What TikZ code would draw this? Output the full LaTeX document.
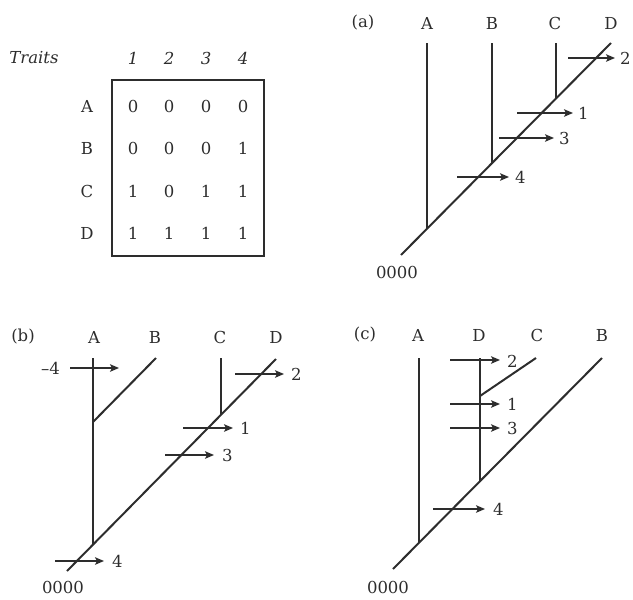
\documentclass[tikz,border=0pt]{standalone}
\usepackage{fontspec}
\setmainfont{DejaVu Serif}
\usetikzlibrary{arrows.meta}
\definecolor{ink}{RGB}{45,45,45}
\begin{document}
\begin{tikzpicture}[x=1pt,y=-1pt,
  font=\fontsize{16.5}{19}\selectfont,
  every node/.style={text=ink, inner sep=0pt},
  branch/.style={draw=ink, line width=2pt},
  mut/.style={draw=ink, line width=1.4pt, -{Stealth[length=9pt,width=7.5pt,inset=2pt]}},
  lab/.style={anchor=west}]
\useasboundingbox (0,0) rectangle (633,600);

% ---------- table ----------
\node (traits) at (34,58) {\itshape Traits};
\foreach \c/\x in {1/133,2/169,3/206,4/243} \node (h\c) at (\x,58) {\itshape \c};
\node (tbl) [draw=ink, line width=1.1pt, minimum width=152pt, minimum height=176pt] at (188,168) {};
\foreach \r/\y/\va/\vb/\vc/\vd in {A/106/0/0/0/0, B/148/0/0/0/1, C/191/1/0/1/1, D/233/1/1/1/1}{
  \node (r\r) at (87,\y) {\r};
  \node (v\r1) at (133,\y) {\va};
  \node (v\r2) at (169,\y) {\vb};
  \node (v\r3) at (206,\y) {\vc};
  \node (v\r4) at (243,\y) {\vd};
}

% ---------- panel (a) ----------
\node (alab) at (363,23) {(a)};
\node (aA) at (427,23) {A};
\node (aB) at (492,23) {B};
\node (aC) at (555,23) {C};
\node (aD) at (611,23) {D};
\coordinate (aroot) at (401,255);
\coordinate (atD) at (611,43);
\coordinate (atA) at (427,43);
\coordinate (ajA) at (427,228.8);
\coordinate (atB) at (492,43);
\coordinate (ajB) at (492,163.1);
\coordinate (atC) at (556,43);
\coordinate (ajC) at (556,98.5);
\draw[branch] (aroot) -- (atD);
\draw[branch] (ajA) -- (atA);
\draw[branch] (ajB) -- (atB);
\draw[branch] (ajC) -- (atC);
\coordinate (a2s) at (568,58);  \coordinate (a2e) at (615,58);
\coordinate (a1s) at (517,113); \coordinate (a1e) at (573,113);
\coordinate (a3s) at (499,138); \coordinate (a3e) at (554,138);
\coordinate (a4s) at (457,177); \coordinate (a4e) at (509,177);
\draw[mut] (a2s) -- (a2e); \node[lab] (a2) at (620,58) {2};
\draw[mut] (a1s) -- (a1e); \node[lab] (a1) at (578,113) {1};
\draw[mut] (a3s) -- (a3e); \node[lab] (a3) at (559,138) {3};
\draw[mut] (a4s) -- (a4e); \node[lab] (a4) at (515,177) {4};
\node (a0) at (397,272) {0000};

% ---------- panel (b) ----------
\node (blab) at (23,337) {(b)};
\node (bA) at (94,337) {A};
\node (bB) at (155,337) {B};
\node (bC) at (220,337) {C};
\node (bD) at (276,337) {D};
\coordinate (broot) at (67,571);
\coordinate (btD) at (276,359);
\coordinate (btA) at (93,358);
\coordinate (bjA) at (93,544.6);
\coordinate (bjB) at (93,422);
\coordinate (btB) at (156,358);
\coordinate (btC) at (221,358);
\coordinate (bjC) at (221,414.8);
\draw[branch] (broot) -- (btD);
\draw[branch] (bjA) -- (btA);
\draw[branch] (bjB) -- (btB);
\draw[branch] (bjC) -- (btC);
\coordinate (bms) at (70,368);  \coordinate (bme) at (119,368);
\coordinate (b2s) at (235,374); \coordinate (b2e) at (284,374);
\coordinate (b1s) at (183,428); \coordinate (b1e) at (233,428);
\coordinate (b3s) at (165,455); \coordinate (b3e) at (214,455);
\coordinate (b4s) at (55,561);  \coordinate (b4e) at (104,561);
\node[anchor=east] (bm) at (60,368) {–4};
\draw[mut] (bms) -- (bme);
\draw[mut] (b2s) -- (b2e); \node[lab] (b2) at (291,374) {2};
\draw[mut] (b1s) -- (b1e); \node[lab] (b1) at (240,428) {1};
\draw[mut] (b3s) -- (b3e); \node[lab] (b3) at (222,455) {3};
\draw[mut] (b4s) -- (b4e); \node[lab] (b4) at (112,561) {4};
\node (b0) at (63,587) {0000};

% ---------- panel (c) ----------
\node (clab) at (365,335) {(c)};
\node (cA) at (418,335) {A};
\node (cD) at (479,335) {D};
\node (cC) at (537,335) {C};
\node (cB) at (602,335) {B};
\coordinate (croot) at (393,569);
\coordinate (ctB) at (602,358);
\coordinate (ctA) at (419,358);
\coordinate (cjA) at (419,542.8);
\coordinate (ctD) at (480,358);
\coordinate (cjD) at (480,481.2);
\coordinate (cjC) at (480,396);
\coordinate (ctC) at (536,358);
\draw[branch] (croot) -- (ctB);
\draw[branch] (cjA) -- (ctA);
\draw[branch] (cjD) -- (ctD);
\draw[branch] (cjC) -- (ctC);
\coordinate (c2s) at (450,360); \coordinate (c2e) at (500,360);
\coordinate (c1s) at (450,404); \coordinate (c1e) at (500,404);
\coordinate (c3s) at (450,428); \coordinate (c3e) at (500,428);
\coordinate (c4s) at (433,509); \coordinate (c4e) at (485,509);
\draw[mut] (c2s) -- (c2e); \node[lab] (c2) at (507,361) {2};
\draw[mut] (c1s) -- (c1e); \node[lab] (c1) at (507,404) {1};
\draw[mut] (c3s) -- (c3e); \node[lab] (c3) at (507,428) {3};
\draw[mut] (c4s) -- (c4e); \node[lab] (c4) at (493,509) {4};
\node (c0) at (388,587) {0000};
\end{tikzpicture}
\end{document}
